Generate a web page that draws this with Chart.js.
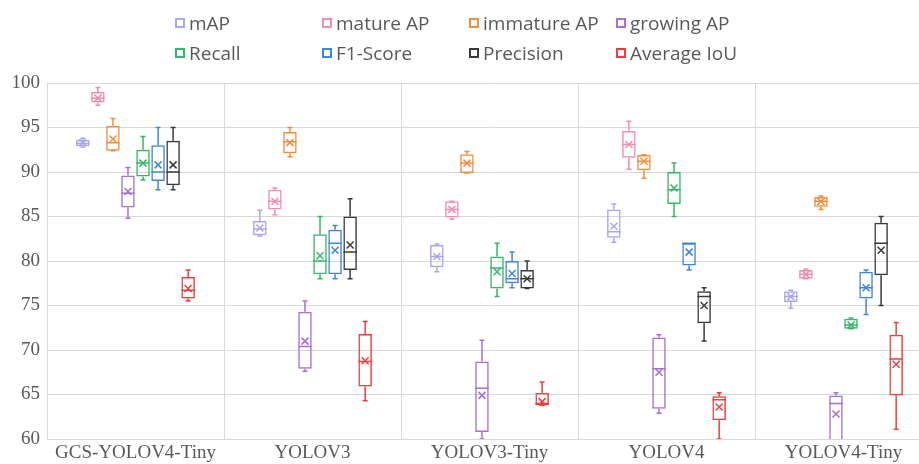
<!DOCTYPE html>
<html>
<head>
<meta charset="utf-8">
<script src="https://cdn.jsdelivr.net/npm/chart.js@4.4.1/dist/chart.umd.min.js"></script>
<style>
html, body { margin: 0; padding: 0; background: #fff; overflow: hidden; }
#wrap { position: relative; width: 940px; height: 464px; }
#legend {
    position: absolute; left: 175px; top: 8px;
    display: grid; grid-template-columns: repeat(4, 147px); grid-auto-rows: 30px;
    font-family: 'Open Sans', sans-serif; font-size: 19px; color: #595959;
}
#legend div { display: flex; align-items: center; white-space: nowrap; }
#legend span.box { display: inline-block; width: 6px; height: 6px; border-width: 2px; border-style: solid; margin-right: 4px; }
</style>
</head>
<body>
<div id="wrap">
    <canvas id="chart"></canvas>
    <div id="legend"></div>
</div>
<script>
const models = ['GCS-YOLOV4-Tiny', 'YOLOV3', 'YOLOV3-Tiny', 'YOLOV4', 'YOLOV4-Tiny'];
const metricNames = ['mAP', 'mature AP', 'immature AP', 'growing AP', 'Recall', 'F1-Score', 'Precision', 'Average IoU'];
const yTicks = [60, 65, 70, 75, 80, 85, 90, 95, 100];

// each row: [min, q1, median, q3, max, mean] per model
const mapStats = [
    [92.8, 92.9, 93.2, 93.6, 93.8, 93.3],
    [82.8, 82.9, 83.6, 84.5, 85.7, 83.7],
    [78.8, 79.3, 80.5, 81.8, 81.9, 80.5],
    [82.1, 82.6, 83.3, 85.8, 86.4, 83.9],
    [74.7, 75.4, 76.0, 76.6, 76.7, 76.0]
];
const matureStats = [
    [97.5, 97.8, 98.3, 99.0, 99.5, 98.3],
    [85.2, 85.8, 86.7, 88.0, 88.2, 86.7],
    [84.7, 84.9, 85.8, 86.7, 86.7, 85.8],
    [90.3, 91.6, 93.1, 94.6, 95.7, 93.1],
    [78.0, 78.0, 78.5, 79.0, 79.1, 78.5]
];
const immatureStats = [
    [92.4, 92.4, 93.3, 95.2, 96.0, 93.7],
    [91.7, 92.1, 93.4, 94.5, 95.0, 93.3],
    [89.9, 89.9, 91.0, 92.0, 92.3, 91.0],
    [89.3, 90.2, 91.2, 91.9, 91.95, 91.2],
    [85.8, 86.1, 86.7, 87.2, 87.3, 86.7]
];
const growingStats = [
    [84.8, 86.0, 87.6, 89.6, 90.5, 87.8],
    [67.6, 67.9, 70.4, 74.3, 75.5, 71.0],
    [60.0, 60.8, 65.7, 68.7, 71.1, 64.9],
    [62.9, 63.4, 67.9, 71.4, 71.7, 67.5],
    [59.5, 59.5, 64.0, 64.9, 65.2, 62.8]
];
const recallStats = [
    [89.1, 89.5, 91.0, 92.5, 94.0, 91.0],
    [78.0, 78.5, 80.0, 83.0, 85.0, 80.6],
    [76.0, 76.9, 79.2, 80.5, 82.0, 78.8],
    [85.0, 86.4, 88.0, 90.0, 91.0, 88.2],
    [72.4, 72.4, 72.8, 73.5, 73.6, 72.8]
];
const f1Stats = [
    [88.0, 89.0, 90.0, 93.0, 95.0, 90.8],
    [78.0, 78.5, 82.0, 83.5, 84.0, 81.2],
    [77.0, 77.5, 78.0, 80.0, 81.0, 78.6],
    [79.0, 79.5, 82.0, 82.0, 82.0, 81.0],
    [74.0, 75.8, 77.0, 78.8, 79.0, 77.0]
];
const precisionStats = [
    [88.0, 88.5, 90.0, 93.5, 95.0, 90.8],
    [78.0, 79.0, 81.0, 85.0, 87.0, 81.8],
    [76.9, 76.9, 78.0, 79.0, 80.0, 78.0],
    [71.0, 73.0, 76.0, 76.6, 77.0, 75.0],
    [75.0, 78.4, 82.0, 84.3, 85.0, 81.2]
];
const iouStats = [
    [75.5, 75.8, 76.7, 78.2, 79.0, 76.9],
    [64.3, 65.9, 68.7, 71.8, 73.2, 68.8],
    [63.8, 63.8, 64.0, 65.2, 66.4, 64.2],
    [60.0, 62.1, 64.4, 64.8, 65.2, 63.6],
    [61.1, 64.9, 69.0, 71.7, 73.1, 68.4]
];

const allStats = [mapStats, matureStats, immatureStats, growingStats, recallStats, f1Stats, precisionStats, iouStats];
const colors = ['#a9a5f5', '#f38db2', '#f28e3c', '#a670d6', '#35b76b', '#3f86dc', '#3a3a3a', '#f03e3e'];

const datasets = metricNames.map((name, i) => ({
    label: name,
    data: allStats[i].map(s => [s[1], s[3]]),
    stats: allStats[i],
    backgroundColor: 'rgba(255,255,255,0)',
    borderColor: colors[i],
    borderWidth: 1.5,
    borderSkipped: false,
    categoryPercentage: 0.68,
    barPercentage: 0.9
}));

// whiskers, median line and mean cross
const boxPlot = {
    id: 'boxPlot',
    afterDatasetsDraw(chart) {
        const ctx = chart.ctx;
        const y = chart.scales.y;
        const area = chart.chartArea;
        ctx.save();
        ctx.beginPath();
        ctx.rect(area.left, area.top, area.right - area.left, area.bottom - area.top);
        ctx.clip();
        chart.data.datasets.forEach((ds, i) => {
            const meta = chart.getDatasetMeta(i);
            meta.data.forEach((bar, j) => {
                const s = ds.stats[j];
                const x = bar.x;
                const half = bar.width / 2;
                ctx.strokeStyle = ds.borderColor;
                ctx.lineWidth = 1.5;
                ctx.beginPath();
                // upper whisker
                ctx.moveTo(x, y.getPixelForValue(s[3]));
                ctx.lineTo(x, y.getPixelForValue(s[4]));
                ctx.moveTo(x - 2.5, y.getPixelForValue(s[4]));
                ctx.lineTo(x + 2.5, y.getPixelForValue(s[4]));
                // lower whisker
                ctx.moveTo(x, y.getPixelForValue(s[1]));
                ctx.lineTo(x, y.getPixelForValue(s[0]));
                ctx.moveTo(x - 2.5, y.getPixelForValue(s[0]));
                ctx.lineTo(x + 2.5, y.getPixelForValue(s[0]));
                // median
                ctx.moveTo(x - half, y.getPixelForValue(s[2]));
                ctx.lineTo(x + half, y.getPixelForValue(s[2]));
                ctx.stroke();
                // mean
                const my = y.getPixelForValue(s[5]);
                ctx.beginPath();
                ctx.moveTo(x - 3.5, my - 3.5);
                ctx.lineTo(x + 3.5, my + 3.5);
                ctx.moveTo(x + 3.5, my - 3.5);
                ctx.lineTo(x - 3.5, my + 3.5);
                ctx.stroke();
            });
        });
        ctx.restore();
    }
};

const htmlLegend = {
    id: 'htmlLegend',
    afterUpdate(chart) {
        const box = document.getElementById('legend');
        box.innerHTML = '';
        chart.data.datasets.forEach(ds => {
            const item = document.createElement('div');
            const mark = document.createElement('span');
            mark.className = 'box';
            mark.style.borderColor = ds.borderColor;
            item.appendChild(mark);
            item.appendChild(document.createTextNode(ds.label));
            box.appendChild(item);
        });
    }
};

const tickFont = { family: 'Liberation Serif', size: 19 };

new Chart(document.getElementById('chart').getContext('2d'), {
    type: 'bar',
    data: { labels: models, datasets: datasets },
    plugins: [boxPlot, htmlLegend],
    options: {
        responsive: true,
        maintainAspectRatio: false,
        animation: false,
        layout: { padding: { top: 83, right: 8, bottom: 0, left: 0 } },
        plugins: {
            legend: { display: false },
            tooltip: { enabled: false }
        },
        scales: {
            x: {
                grid: { offset: true, color: '#d9d9d9', drawTicks: false },
                border: { color: '#d9d9d9' },
                ticks: { font: tickFont, color: '#595959', padding: 3, maxRotation: 0 },
                afterFit(scale) { scale.height = 25; }
            },
            y: {
                min: 60,
                max: 100,
                afterBuildTicks(scale) { scale.ticks = yTicks.map(v => ({ value: v })); },
                grid: { color: '#d9d9d9', drawTicks: false },
                border: { display: false },
                ticks: { font: tickFont, color: '#595959', padding: 7 },
                afterFit(scale) { scale.width = 47; }
            }
        }
    }
});
</script>
</body>
</html>
